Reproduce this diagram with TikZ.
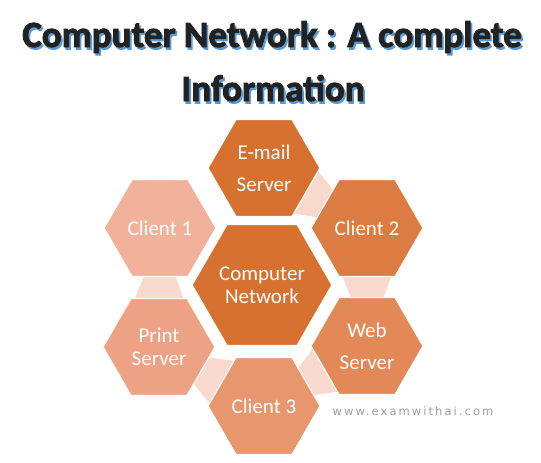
\documentclass[tikz,border=0pt]{standalone}
\usepackage{fontspec}
\setmainfont{Carlito}
\newfontfamily\wmfont{DejaVu Sans}[LetterSpace=18]
\usetikzlibrary{shapes.geometric,calc}
\definecolor{cCenter}{HTML}{D6712F}
\definecolor{cMail}{HTML}{D6712F}
\definecolor{cCltTwo}{HTML}{DC7C42}
\definecolor{cWeb}{HTML}{E28957}
\definecolor{cCltThree}{HTML}{E8966D}
\definecolor{cPrint}{HTML}{EDA283}
\definecolor{cCltOne}{HTML}{F2B19A}
\definecolor{cLink}{HTML}{F9D9CE}
\definecolor{cShadow}{HTML}{5B9BD5}
\definecolor{cTitle}{HTML}{222222}
\definecolor{cMark}{HTML}{9C9C9C}
\newcommand\heavytext[1]{\special{pdf:literal direct 2 Tr 0.9 w}#1\special{pdf:literal direct 0 Tr}}
\newcommand\hexlink[2]{%
  \fill[cLink] ($(#1)!42pt!(#2)!27pt!90:(#2)$) -- ($(#1)!42pt!(#2)!27pt!-90:(#2)$)
    -- ($(#1)!78pt!(#2)!13pt!-90:(#2)$) -- ($(#1)!78pt!(#2)!13pt!90:(#2)$) -- cycle;}
\begin{document}
\begin{tikzpicture}[x=1pt,y=-1pt,
  hexbox/.style={regular polygon, regular polygon sides=6, minimum size=112pt,
    inner sep=0pt, draw=white, line width=1.2pt, text=white, align=center,
    font=\fontsize{21}{23}\selectfont},
  widebox/.style={hexbox, font=\fontsize{21}{32}\selectfont},
  titletext/.style={anchor=base, text=cTitle, font=\fontsize{37}{40}\selectfont\bfseries},
  titleshadow/.style={anchor=base, text=cShadow, font=\fontsize{37}{40}\selectfont\bfseries}]
\useasboundingbox (0,0) rectangle (541,463);
% title: blue drop shadow, then heavy black text
\node[titleshadow] (t1s) at (273.8,49.3) {\heavytext{Computer Network : A complete}};
\node[titletext] (t1) at (272,47) {\heavytext{Computer Network : A complete}};
\node[titleshadow] (t2s) at (274.8,103.3) {\heavytext{Information}};
\node[titletext] (t2) at (273,101) {\heavytext{Information}};
% hex centres
\coordinate (pMail) at (264,168);
\coordinate (pCltOne) at (160,228);
\coordinate (pCltTwo) at (367,228);
\coordinate (pCenter) at (262,285);
\coordinate (pPrint) at (159,347);
\coordinate (pWeb) at (367,346);
\coordinate (pCltThree) at (264,406);
% connectors
\hexlink{pMail}{pCltTwo}
\hexlink{pCltTwo}{pWeb}
\hexlink{pWeb}{pCltThree}
\hexlink{pCltThree}{pPrint}
\hexlink{pPrint}{pCltOne}
% hexagons
\node[hexbox, minimum size=136pt, fill=cCenter] (center) at (pCenter) {Computer\\Network};
\node[widebox, fill=cMail] (mail) at (pMail) {E-mail\\Server};
\node[hexbox, fill=cCltOne] (clt1) at (pCltOne) {Client 1};
\node[hexbox, fill=cCltTwo] (clt2) at (pCltTwo) {Client 2};
\node[hexbox, fill=cPrint] (print) at (pPrint) {Print\\Server};
\node[widebox, fill=cWeb] (web) at (pWeb) {Web\\Server};
\node[hexbox, fill=cCltThree] (clt3) at (pCltThree) {Client 3};
% watermark
\node[anchor=base, text=cMark, font=\wmfont\fontsize{11.5}{13}\selectfont] (mark) at (413,415) {www.examwithai.com};
\end{tikzpicture}
\end{document}
